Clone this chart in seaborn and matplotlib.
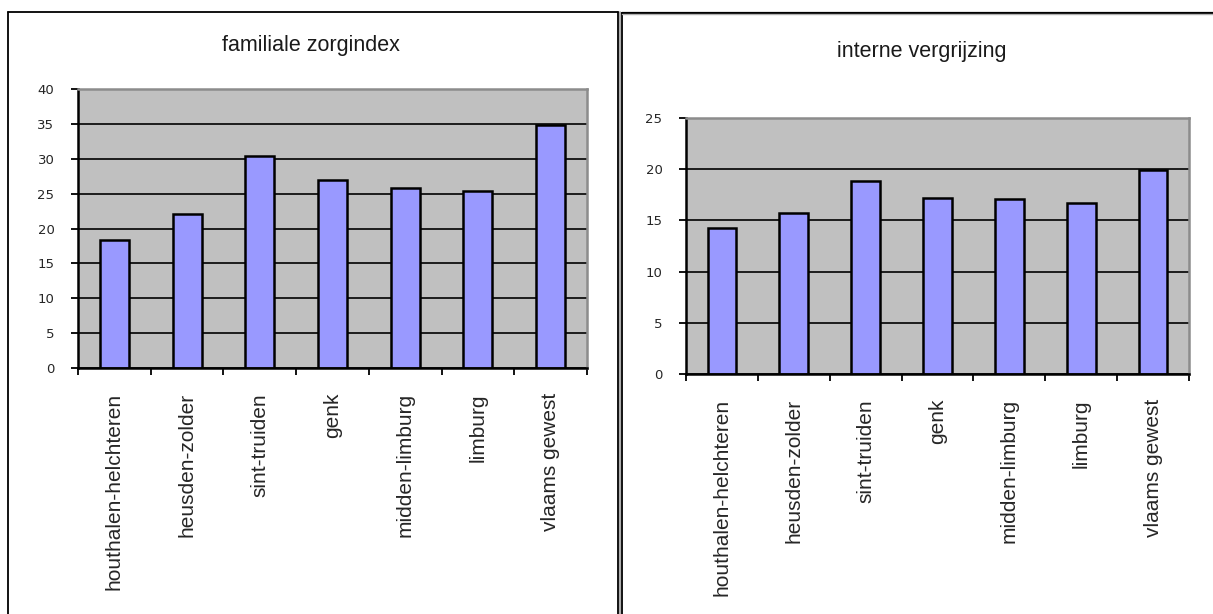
import pandas as pd
import matplotlib.pyplot as plt
import seaborn as sns
import numpy as np
from matplotlib.lines import Line2D

# --- DATA ---
regions = ["houthalen-helchteren", "heusden-zolder", "sint-truiden", "genk",
           "midden-limburg", "limburg", "vlaams gewest"]
zorgindex = [18.4, 22.1, 30.4, 26.9, 25.8, 25.4, 34.8]
vergrijzing = [14.3, 15.7, 18.8, 17.2, 17.1, 16.7, 19.9]
yticks_left = [0, 5, 10, 15, 20, 25, 30, 35, 40]
yticks_right = [0, 5, 10, 15, 20, 25]

sns.set_style("white")
plt.rcParams['font.family'] = ['Liberation Sans', 'DejaVu Sans']

W, H = 1213, 614
fig = plt.figure(figsize=(W / 100, H / 100), dpi=100)
fig.patch.set_facecolor("white")


def px_axes(x0, y0, x1, y1):
    # axes rectangle from pixel coords (top-left origin)
    return fig.add_axes([x0 / W, 1 - y1 / H, (x1 - x0) / W, (y1 - y0) / H])


def draw_panel(ax, values, yticks, title, title_xy):
    df = pd.DataFrame({"regio": regions, "waarde": values})
    sns.barplot(data=df, x="regio", y="waarde", color="#9999FF", saturation=1,
                edgecolor="black", linewidth=1.8, width=0.4, ax=ax, zorder=2)
    ax.set_facecolor("#C0C0C0")
    ax.set_xlim(-0.5, len(regions) - 0.5)
    ax.set_ylim(yticks[0], yticks[-1])
    ax.set_yticks(yticks)
    ax.set_yticklabels([str(t) for t in yticks], family="DejaVu Sans", fontsize=9.5)
    ax.set_xticks(np.arange(len(regions)))
    ax.set_xticklabels(regions, rotation=90, fontsize=15, va="top", ha="center")
    ax.set_xticks(np.arange(-0.5, len(regions), 1), minor=True)
    ax.tick_params(axis="x", which="major", bottom=False, length=0, pad=18)
    ax.tick_params(axis="x", which="minor", bottom=True, length=5, width=1.3,
                   color="black", direction="out")
    ax.tick_params(axis="y", left=True, length=5, width=1.3, color="black",
                   direction="out", pad=12)
    ax.yaxis.grid(True, color="black", linewidth=1.2)
    ax.xaxis.grid(False)
    ax.set_axisbelow(True)
    for side in ["left", "bottom"]:
        ax.spines[side].set_color("black")
        ax.spines[side].set_linewidth(1.8)
    for side in ["top", "right"]:
        ax.spines[side].set_color("#8C8C8C")
        ax.spines[side].set_linewidth(1.8)
    ax.set_xlabel("")
    ax.set_ylabel("")
    fig.text(title_xy[0] / W, 1 - title_xy[1] / H, title, ha="center", va="center",
             fontsize=15.5, color="#1a1a1a")


ax1 = px_axes(78, 89, 587, 368)
draw_panel(ax1, zorgindex, yticks_left, "familiale zorgindex", (311, 46))

ax2 = px_axes(686, 118, 1189, 374)
draw_panel(ax2, vergrijzing, yticks_right, "interne vergrijzing", (922, 51))

# panel frames
def fline(xs, ys, **kw):
    fig.add_artist(Line2D([x / W for x in xs], [1 - y / H for y in ys], **kw))

fline([8, 8], [11.5, 620], color="black", lw=1.3)
fline([8, 618], [11.5, 11.5], color="black", lw=1.3)
fline([618, 618], [11.5, 620], color="black", lw=1.3)
fline([619.5, 619.5], [12, 620], color="#A0A0A0", lw=1.2)
fline([621.5, 621.5], [12.5, 620], color="black", lw=1.3)
fline([621.5, 1220], [12.5, 12.5], color="black", lw=1.6)
fline([622, 1220], [14, 14], color="#B0B0B0", lw=1.0)

fig.savefig("out.png", dpi=100)
